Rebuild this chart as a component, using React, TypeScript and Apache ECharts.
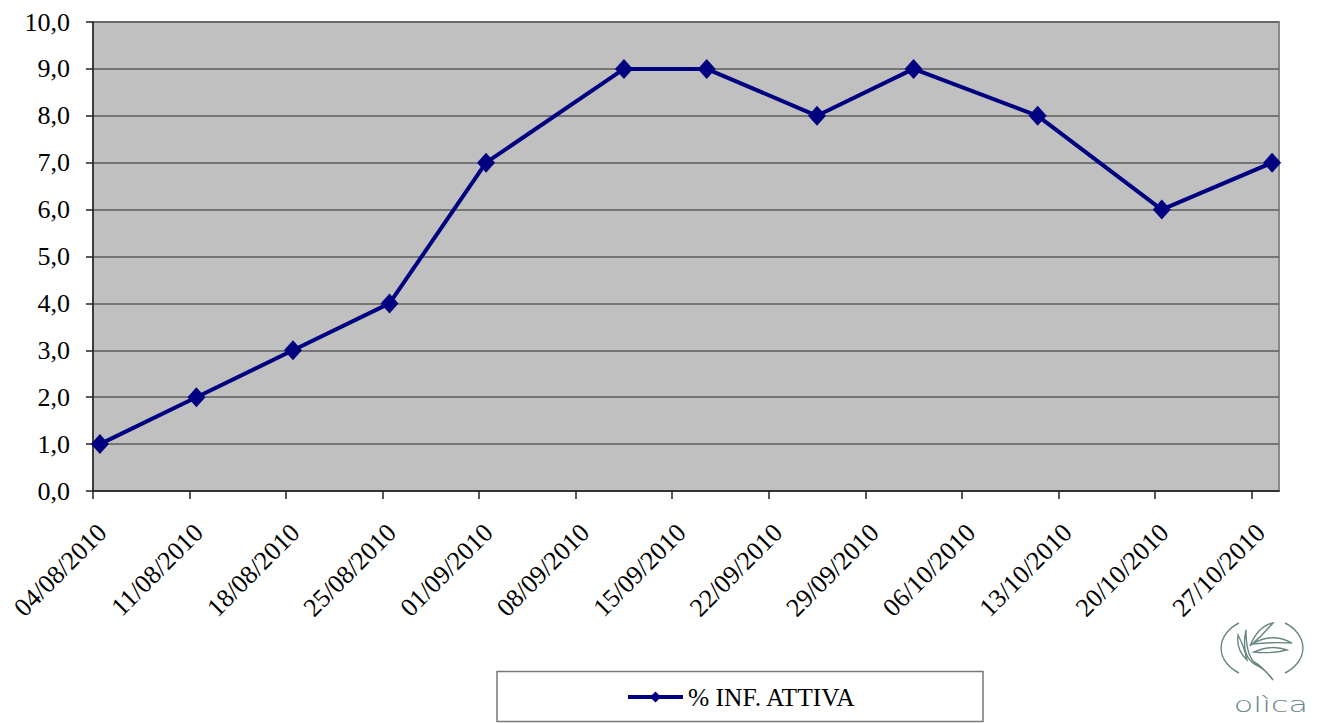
import React, { useEffect, useRef } from "react";
import * as echarts from "echarts";

// ---- Data ----
const POINT_DATES = [
  "04/08/2010", "11/08/2010", "18/08/2010", "25/08/2010", "01/09/2010", "11/09/2010",
  "17/09/2010", "25/09/2010", "02/10/2010", "11/10/2010", "20/10/2010", "28/10/2010",
];
const POINT_VALUES = [1, 2, 3, 4, 7, 9, 9, 8, 9, 8, 6, 7];
const SERIES_NAME = "% INF. ATTIVA";
const AXIS_START_DATE = "04/08/2010";
const AXIS_END_DATE = "29/10/2010";
const TICK_STEP_DAYS = 7;
const Y_MIN = 0;
const Y_MAX = 10;
const Y_STEP = 1;
const LOGO_TEXT = "olìca";

// ---- Helpers ----
const DAY_MS = 86400000;
function parseDay(s: string): number {
  const [d, m, y] = s.split("/").map(Number);
  return Math.round(Date.UTC(y, m - 1, d) / DAY_MS);
}
const pad = (n: number) => String(n).padStart(2, "0");
const startDay = parseDay(AXIS_START_DATE);
const endDay = parseDay(AXIS_END_DATE);
const spanDays = endDay - startDay;
function formatOffset(off: number): string {
  const dt = new Date((startDay + off) * DAY_MS);
  return `${pad(dt.getUTCDate())}/${pad(dt.getUTCMonth() + 1)}/${dt.getUTCFullYear()}`;
}
const tickOffsets: number[] = [];
for (let t = 0; t <= spanDays; t += TICK_STEP_DAYS) tickOffsets.push(t);
// Date axis with day slots: each point sits in the middle of its day.
const seriesData = POINT_DATES.map((s, i) => [parseDay(s) - startDay + 0.5, POINT_VALUES[i]]);

// ---- Logo shape ----
const LOGO_PATH =
  "M -23 -25 A 40 30 0 0 0 -23 25 " +
  "M 23 -25 A 40 30 0 0 1 23 25 " +
  "M -12 -2 Q -4 -22 11 -25 Q 0 -12 -12 -2 Z " +
  "M -10 -4 Q 10 -16 30 -5 Q 10 -6 -10 -4 Z " +
  "M -8 4 Q 10 -4 25 2 Q 8 6 -8 4 Z " +
  "M -16 -18 Q -22 10 -4 18 Q 6 24 11 32 Q 0 18 -8 14 Q -16 6 -16 -18 Z " +
  "M -24 -13 Q -26 2 -15 12 Q -18 -2 -24 -13 Z";
let logoRegistered = false;
function ensureLogo() {
  if (logoRegistered) return;
  echarts.graphic.registerShape("olicaLogo", echarts.graphic.extendPath(LOGO_PATH, {}) as any);
  logoRegistered = true;
}

const SERIF = "Liberation Serif";
const NAVY = "#000080";

export default function App() {
  const ref = useRef<HTMLDivElement>(null);
  useEffect(() => {
    if (!ref.current) return;
    ensureLogo();
    const chart = echarts.init(ref.current, null, { renderer: "svg" });
    chart.setOption({
      animation: false,
      backgroundColor: "#ffffff",
      grid: {
        left: 93,
        right: 41,
        top: 22,
        bottom: 232,
        show: true,
        backgroundColor: "#C0C0C0",
        borderColor: "#8a8a8a",
        borderWidth: 2,
        containLabel: false,
        outerBoundsMode: "none",
      },
      xAxis: {
        type: "value",
        min: 0,
        max: spanDays,
        interval: TICK_STEP_DAYS,
        axisLine: { show: true, onZero: false, lineStyle: { color: "#222", width: 1.5 } },
        axisTick: { show: true, length: 8, customValues: tickOffsets, lineStyle: { color: "#222", width: 1.5 } },
        splitLine: { show: false },
        axisLabel: {
          customValues: tickOffsets,
          rotate: 45,
          margin: 28,
          verticalAlign: "top",
          fontSize: 26,
          fontFamily: SERIF,
          color: "#000",
          formatter: (v: number) => formatOffset(v),
        },
      },
      yAxis: {
        type: "value",
        min: Y_MIN,
        max: Y_MAX,
        interval: Y_STEP,
        axisLine: { show: true, lineStyle: { color: "#222", width: 1.5 } },
        axisTick: { show: true, length: 7, lineStyle: { color: "#222", width: 1.5 } },
        splitLine: { show: true, lineStyle: { color: "#5c5c5c", width: 1.5 } },
        axisLabel: {
          margin: 23,
          fontSize: 26,
          fontFamily: SERIF,
          color: "#000",
          formatter: (v: number) => v.toFixed(1).replace(".", ","),
        },
      },
      legend: {
        show: true,
        left: 626,
        top: 684,
        padding: 0,
        itemWidth: 55,
        itemHeight: 14,
        lineStyle: { width: 4, color: NAVY },
        itemStyle: { color: NAVY },
        textStyle: { fontSize: 25.5, fontFamily: SERIF, color: "#000" },
        data: [SERIES_NAME],
      },
      series: [
        {
          name: SERIES_NAME,
          type: "line",
          data: seriesData,
          symbol: "diamond",
          symbolSize: [18, 20],
          lineStyle: { color: NAVY, width: 4 },
          itemStyle: { color: NAVY },
          clip: false,
        },
      ],
      graphic: [
        {
          type: "rect",
          shape: { x: 497, y: 671.5, width: 486, height: 50 },
          style: { fill: "none", stroke: "#7a7a7a", lineWidth: 1.5 },
          z: -1,
        },
        {
          type: "olicaLogo",
          x: 1262,
          y: 648,
          style: { fill: "none", stroke: "#6a8784", lineWidth: 1.4 },
        },
        {
          type: "text",
          x: 1271,
          y: 704,
          scaleX: 1.45,
          style: {
            text: LOGO_TEXT,
            fill: "#6a8784",
            font: "300 22px 'DejaVu Sans', sans-serif",
            textAlign: "center",
            textVerticalAlign: "middle",
          },
        },
      ],
    });
    return () => chart.dispose();
  }, []);
  return (
    <div
      ref={ref}
      style={{ position: "absolute", left: 0, top: 0, width: 1320, height: 723 }}
    />
  );
}
